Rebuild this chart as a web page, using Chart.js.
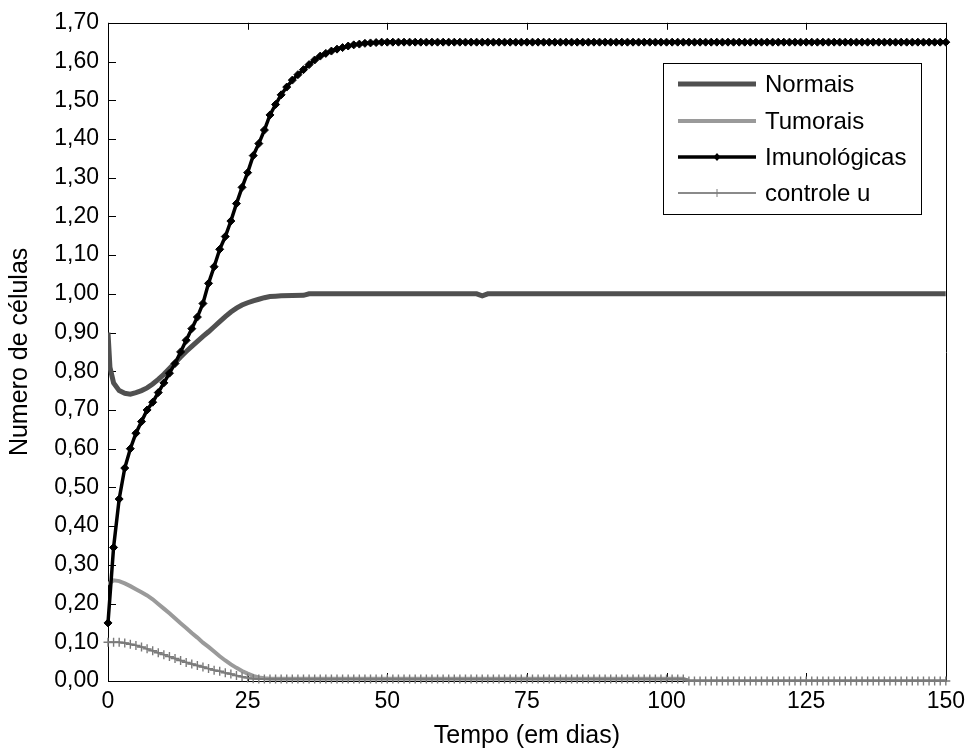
<!DOCTYPE html>
<html>
<head>
<meta charset="utf-8">
<title>Número de células</title>
<script src="https://cdn.jsdelivr.net/npm/chart.js@4.4.1/dist/chart.umd.min.js"></script>
<style>
  html, body { margin: 0; padding: 0; background: #fff; }
  #wrap { width: 972px; height: 750px; }
</style>
</head>
<body>
<div id="wrap"><canvas id="chart" width="972" height="750"></canvas></div>
<script>
// Days 0..150 (one sample per day for the marked series)
const days = Array.from({ length: 151 }, (_, i) => i);

// Normal cells (sparse breakpoints; flat stretches join straight)
const normaisDays = [0, 0.35, 1, 2, 3, 4, 5, 6, 7, 8, 9, 10, 11, 12, 13, 14, 15, 16, 17, 18, 19, 20,
  21, 22, 23, 24, 25, 26, 27, 28, 29, 30, 31, 35, 36, 66, 67, 68, 150];
const normais = [0.90, 0.81, 0.77, 0.75, 0.743, 0.741, 0.745, 0.75, 0.757, 0.767, 0.779, 0.792,
  0.807, 0.822, 0.837, 0.851, 0.864, 0.877, 0.89, 0.902, 0.915, 0.928,
  0.941, 0.953, 0.963, 0.971, 0.977, 0.982, 0.986, 0.99, 0.993, 0.994, 0.995, 0.996, 1.0, 1.0, 0.995, 1.0, 1.0];

// Tumour cells
const tumoraisDays = [0, 1, 2, 3, 4, 5, 6, 7, 8, 9, 10, 11, 12, 13, 14, 15, 16, 17, 18, 19, 20,
  21, 22, 23, 24, 25, 26, 27, 28, 29, 103, 104, 150];
const tumorais = [0.25, 0.26, 0.258, 0.252, 0.245, 0.237, 0.229, 0.221, 0.211, 0.199, 0.187,
  0.175, 0.162, 0.149, 0.137, 0.124, 0.112, 0.099, 0.088, 0.076, 0.064,
  0.053, 0.043, 0.034, 0.026, 0.019, 0.013, 0.009, 0.007, 0.006, 0.006, 0, 0];

// Immune cells, one value per day
const imunologicas = [
  0.15, 0.345, 0.47, 0.55, 0.60, 0.64, 0.67, 0.70, 0.72, 0.745,
  0.77, 0.795, 0.82, 0.85, 0.88, 0.91, 0.94, 0.975, 1.027, 1.07,
  1.115, 1.148, 1.188, 1.233, 1.275, 1.313, 1.357, 1.388, 1.423, 1.462,
  1.489, 1.514, 1.534, 1.552, 1.566, 1.579, 1.592, 1.604, 1.614, 1.621,
  1.627, 1.632, 1.636, 1.64, 1.643, 1.645, 1.647, 1.648, 1.649, 1.65,
  1.65, 1.65, 1.65, 1.65, 1.65, 1.65, 1.65, 1.65, 1.65, 1.65,
  1.65, 1.65, 1.65, 1.65, 1.65, 1.65, 1.65, 1.65, 1.65, 1.65,
  1.65, 1.65, 1.65, 1.65, 1.65, 1.65, 1.65, 1.65, 1.65, 1.65,
  1.65, 1.65, 1.65, 1.65, 1.65, 1.65, 1.65, 1.65, 1.65, 1.65,
  1.65, 1.65, 1.65, 1.65, 1.65, 1.65, 1.65, 1.65, 1.65, 1.65,
  1.65, 1.65, 1.65, 1.65, 1.65, 1.65, 1.65, 1.65, 1.65, 1.65,
  1.65, 1.65, 1.65, 1.65, 1.65, 1.65, 1.65, 1.65, 1.65, 1.65,
  1.65, 1.65, 1.65, 1.65, 1.65, 1.65, 1.65, 1.65, 1.65, 1.65,
  1.65, 1.65, 1.65, 1.65, 1.65, 1.65, 1.65, 1.65, 1.65, 1.65,
  1.65, 1.65, 1.65, 1.65, 1.65, 1.65, 1.65, 1.65, 1.65, 1.65,
  1.65
];

// Control u, one value per day
const controleU = [
  0.100, 0.100, 0.100, 0.098, 0.095, 0.092, 0.088, 0.083, 0.078, 0.073,
  0.068, 0.063, 0.058, 0.053, 0.048, 0.044, 0.040, 0.036, 0.032, 0.028,
  0.025, 0.021, 0.018, 0.014, 0.011, 0.008, 0.006, 0.005, 0.005, 0.005,
  0.005, 0.005, 0.005, 0.005, 0.005, 0.005, 0.005, 0.005, 0.005, 0.005,
  0.005, 0.005, 0.005, 0.005, 0.005, 0.005, 0.005, 0.005, 0.005, 0.005,
  0.005, 0.005, 0.005, 0.005, 0.005, 0.005, 0.005, 0.005, 0.005, 0.005,
  0.005, 0.005, 0.005, 0.005, 0.005, 0.005, 0.005, 0.005, 0.005, 0.005,
  0.005, 0.005, 0.005, 0.005, 0.005, 0.005, 0.005, 0.005, 0.005, 0.005,
  0.005, 0.005, 0.005, 0.005, 0.005, 0.005, 0.005, 0.005, 0.005, 0.005,
  0.005, 0.005, 0.005, 0.005, 0.005, 0.005, 0.005, 0.005, 0.005, 0.005,
  0.005, 0.005, 0.005, 0.005, 0, 0, 0, 0, 0, 0,
  0, 0, 0, 0, 0, 0, 0, 0, 0, 0,
  0, 0, 0, 0, 0, 0, 0, 0, 0, 0,
  0, 0, 0, 0, 0, 0, 0, 0, 0, 0,
  0, 0, 0, 0, 0, 0, 0, 0, 0, 0,
  0
];

const seriesNames = ['Normais', 'Tumorais', 'Imunológicas', 'controle u'];
const xTitle = 'Tempo (em dias)';
const yTitle = 'Numero de células';

const FONT = "'Liberation Sans', Arial, sans-serif";
const TICK_SIZE = 23;
const LEGEND_SIZE = 24;
const TITLE_SIZE = 25;

const pairs = (xs, ys) => xs.map((x, i) => ({ x, y: ys[i] }));

// Plot frame with inward tick marks on left, bottom and top edges
const framePlugin = {
  id: 'frame',
  beforeDatasetsDraw(chart) {
    const { ctx, chartArea: a, scales: { x, y } } = chart;
    ctx.save();
    ctx.strokeStyle = '#000';
    ctx.lineWidth = 1;
    ctx.beginPath();
    ctx.rect(Math.round(a.left) + 0.5, Math.round(a.top) + 0.5,
      Math.round(a.right - a.left), Math.round(a.bottom - a.top));
    ctx.stroke();
    ctx.beginPath();
    y.ticks.forEach(t => {
      const py = Math.round(y.getPixelForValue(t.value)) + 0.5;
      ctx.moveTo(a.left, py);
      ctx.lineTo(a.left + 8, py);
    });
    x.ticks.forEach(t => {
      const px = Math.round(x.getPixelForValue(t.value)) + 0.5;
      ctx.moveTo(px, a.bottom);
      ctx.lineTo(px, a.bottom - 8);
      ctx.moveTo(px, a.top);
      ctx.lineTo(px, a.top + 7);
    });
    ctx.stroke();
    ctx.restore();
  }
};

// Boxed legend inside the plot, top right
const boxLegendPlugin = {
  id: 'boxLegend',
  afterDatasetsDraw(chart) {
    const { ctx } = chart;
    const box = { x: 663, y: 63, w: 258, h: 151 };
    ctx.save();
    ctx.fillStyle = '#fff';
    ctx.fillRect(box.x, box.y, box.w, box.h);
    ctx.strokeStyle = '#000';
    ctx.lineWidth = 1;
    ctx.strokeRect(box.x + 0.5, box.y + 0.5, box.w, box.h);
    const rowY = [84, 121, 157, 193];
    const x0 = 678, x1 = 756, tx = 765;
    chart.data.datasets.forEach((ds, i) => {
      const yy = rowY[i];
      ctx.strokeStyle = ds.borderColor;
      ctx.lineWidth = ds.borderWidth;
      ctx.beginPath();
      ctx.moveTo(x0, yy);
      ctx.lineTo(x1, yy);
      ctx.stroke();
      if (ds.pointRadius > 0) {
        const mx = (x0 + x1) / 2;
        if (ds.pointStyle === 'rectRot') {
          ctx.fillStyle = ds.pointBackgroundColor;
          ctx.beginPath();
          ctx.moveTo(mx, yy - 4); ctx.lineTo(mx + 3.5, yy); ctx.lineTo(mx, yy + 4); ctx.lineTo(mx - 3.5, yy);
          ctx.closePath();
          ctx.fill();
        } else {
          ctx.strokeStyle = ds.pointBorderColor;
          ctx.lineWidth = 1;
          ctx.beginPath();
          ctx.moveTo(mx, yy - 4); ctx.lineTo(mx, yy + 4);
          ctx.stroke();
        }
      }
      ctx.fillStyle = '#000';
      ctx.font = LEGEND_SIZE + 'px ' + FONT;
      ctx.textAlign = 'left';
      ctx.textBaseline = 'middle';
      ctx.fillText(ds.label, tx, yy + 1);
    });
    ctx.restore();
  }
};

new Chart(document.getElementById('chart'), {
  type: 'line',
  data: {
    datasets: [
      {
        label: seriesNames[0],
        data: pairs(normaisDays, normais),
        borderColor: '#505050',
        borderWidth: 5,
        pointRadius: 0,
        order: 4
      },
      {
        label: seriesNames[1],
        data: pairs(tumoraisDays, tumorais),
        borderColor: '#9a9a9a',
        borderWidth: 4,
        pointRadius: 0,
        order: 3
      },
      {
        label: seriesNames[2],
        data: pairs(days, imunologicas),
        borderColor: '#000',
        borderWidth: 3.5,
        pointStyle: 'rectRot',
        pointRadius: 4,
        pointBackgroundColor: '#000',
        pointBorderColor: '#000',
        pointBorderWidth: 1,
        clip: 6,
        order: 2
      },
      {
        label: seriesNames[3],
        data: pairs(days, controleU),
        borderColor: '#8a8a8a',
        borderWidth: 2,
        pointStyle: 'cross',
        pointRadius: 4.5,
        pointBorderColor: '#7a7a7a',
        pointBorderWidth: 1.4,
        clip: 6,
        order: 1
      }
    ]
  },
  options: {
    responsive: false,
    animation: false,
    devicePixelRatio: 1,
    layout: { padding: { top: 20, right: 24, left: 0, bottom: 0 } },
    elements: { line: { tension: 0, fill: false } },
    plugins: {
      legend: { display: false },
      tooltip: { enabled: false }
    },
    scales: {
      x: {
        type: 'linear',
        min: 0,
        max: 150,
        afterFit(scale) { scale.height = 69; },
        ticks: {
          stepSize: 25,
          color: '#000',
          padding: 7,
          maxRotation: 0,
          font: { family: FONT, size: TICK_SIZE }
        },
        grid: { display: false, drawTicks: false },
        border: { display: false },
        title: {
          display: true,
          text: xTitle,
          color: '#000',
          font: { family: FONT, size: TITLE_SIZE, lineHeight: 1.0 },
          padding: { top: 0, bottom: 1.5 }
        }
      },
      y: {
        min: 0,
        max: 1.7,
        afterFit(scale) { scale.width = 108; },
        ticks: {
          stepSize: 0.1,
          color: '#000',
          padding: 9,
          font: { family: FONT, size: TICK_SIZE },
          callback: v => v.toFixed(2).replace('.', ',')
        },
        grid: { display: false, drawTicks: false },
        border: { display: false },
        title: {
          display: true,
          text: yTitle,
          color: '#000',
          font: { family: FONT, size: TITLE_SIZE, lineHeight: 1.0 },
          padding: { top: 7.5, bottom: 0 }
        }
      }
    }
  },
  plugins: [framePlugin, boxLegendPlugin]
});
</script>
</body>
</html>
